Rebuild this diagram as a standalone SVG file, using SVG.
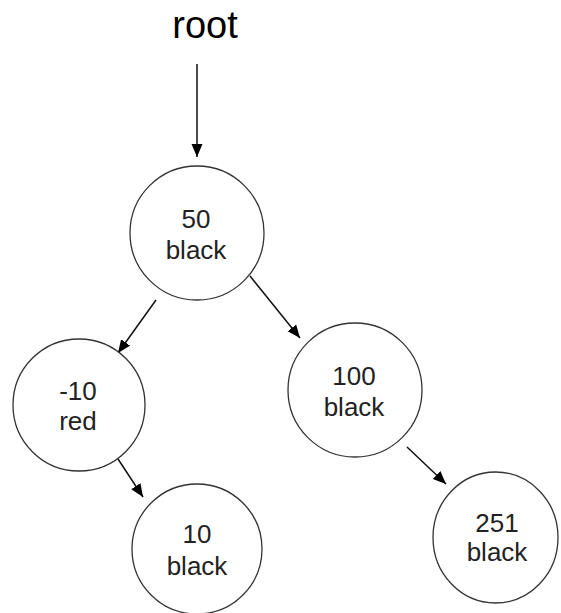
<svg xmlns="http://www.w3.org/2000/svg" width="561" height="613" viewBox="0 0 561 613">
<style>
.node{fill:#fff;stroke:#333;stroke-width:1.3}
.lbl{font-family:"Liberation Sans",Arial,sans-serif;font-size:26px;fill:#222;text-anchor:middle}
.edge{stroke:#111;stroke-width:1.5;fill:none;marker-end:url(#ah)}
.title{font-family:"Liberation Sans",Arial,sans-serif;font-size:38px;fill:#000;text-anchor:middle}
</style>
<defs>
<marker id="ah" markerUnits="userSpaceOnUse" markerWidth="14" markerHeight="12" refX="13" refY="5.5" orient="auto">
<path d="M0,0 L13,5.5 L0,11 z" fill="#000"/>
</marker>
</defs>
<rect width="561" height="613" fill="#fff"/>
<text class="title" x="205" y="38">root</text>
<g id="connectors">
<line class="edge" x1="197" y1="64" x2="197" y2="157"/>
<line class="edge" x1="156" y1="300" x2="118" y2="353"/>
<line class="edge" x1="250" y1="276" x2="300" y2="338"/>
<line class="edge" x1="118" y1="459" x2="143" y2="497"/>
<line class="edge" x1="407" y1="447" x2="446" y2="484"/>
</g>
<g id="n50">
<circle class="node" cx="197" cy="233" r="67"/>
<text class="lbl" x="196" y="228">50</text>
<text class="lbl" x="196" y="259">black</text>
</g>
<g id="nm10">
<circle class="node" cx="79" cy="405" r="66"/>
<text class="lbl" x="78" y="400">-10</text>
<text class="lbl" x="78" y="430">red</text>
</g>
<g id="n100">
<circle class="node" cx="355" cy="390" r="67"/>
<text class="lbl" x="354" y="385">100</text>
<text class="lbl" x="354" y="416">black</text>
</g>
<g id="n10">
<circle class="node" cx="197" cy="549" r="65"/>
<text class="lbl" x="197" y="543">10</text>
<text class="lbl" x="197" y="575">black</text>
</g>
<g id="n251">
<ellipse class="node" cx="495.5" cy="537.5" rx="62.5" ry="65.5"/>
<text class="lbl" x="497" y="532">251</text>
<text class="lbl" x="497" y="561">black</text>
</g>
</svg>
